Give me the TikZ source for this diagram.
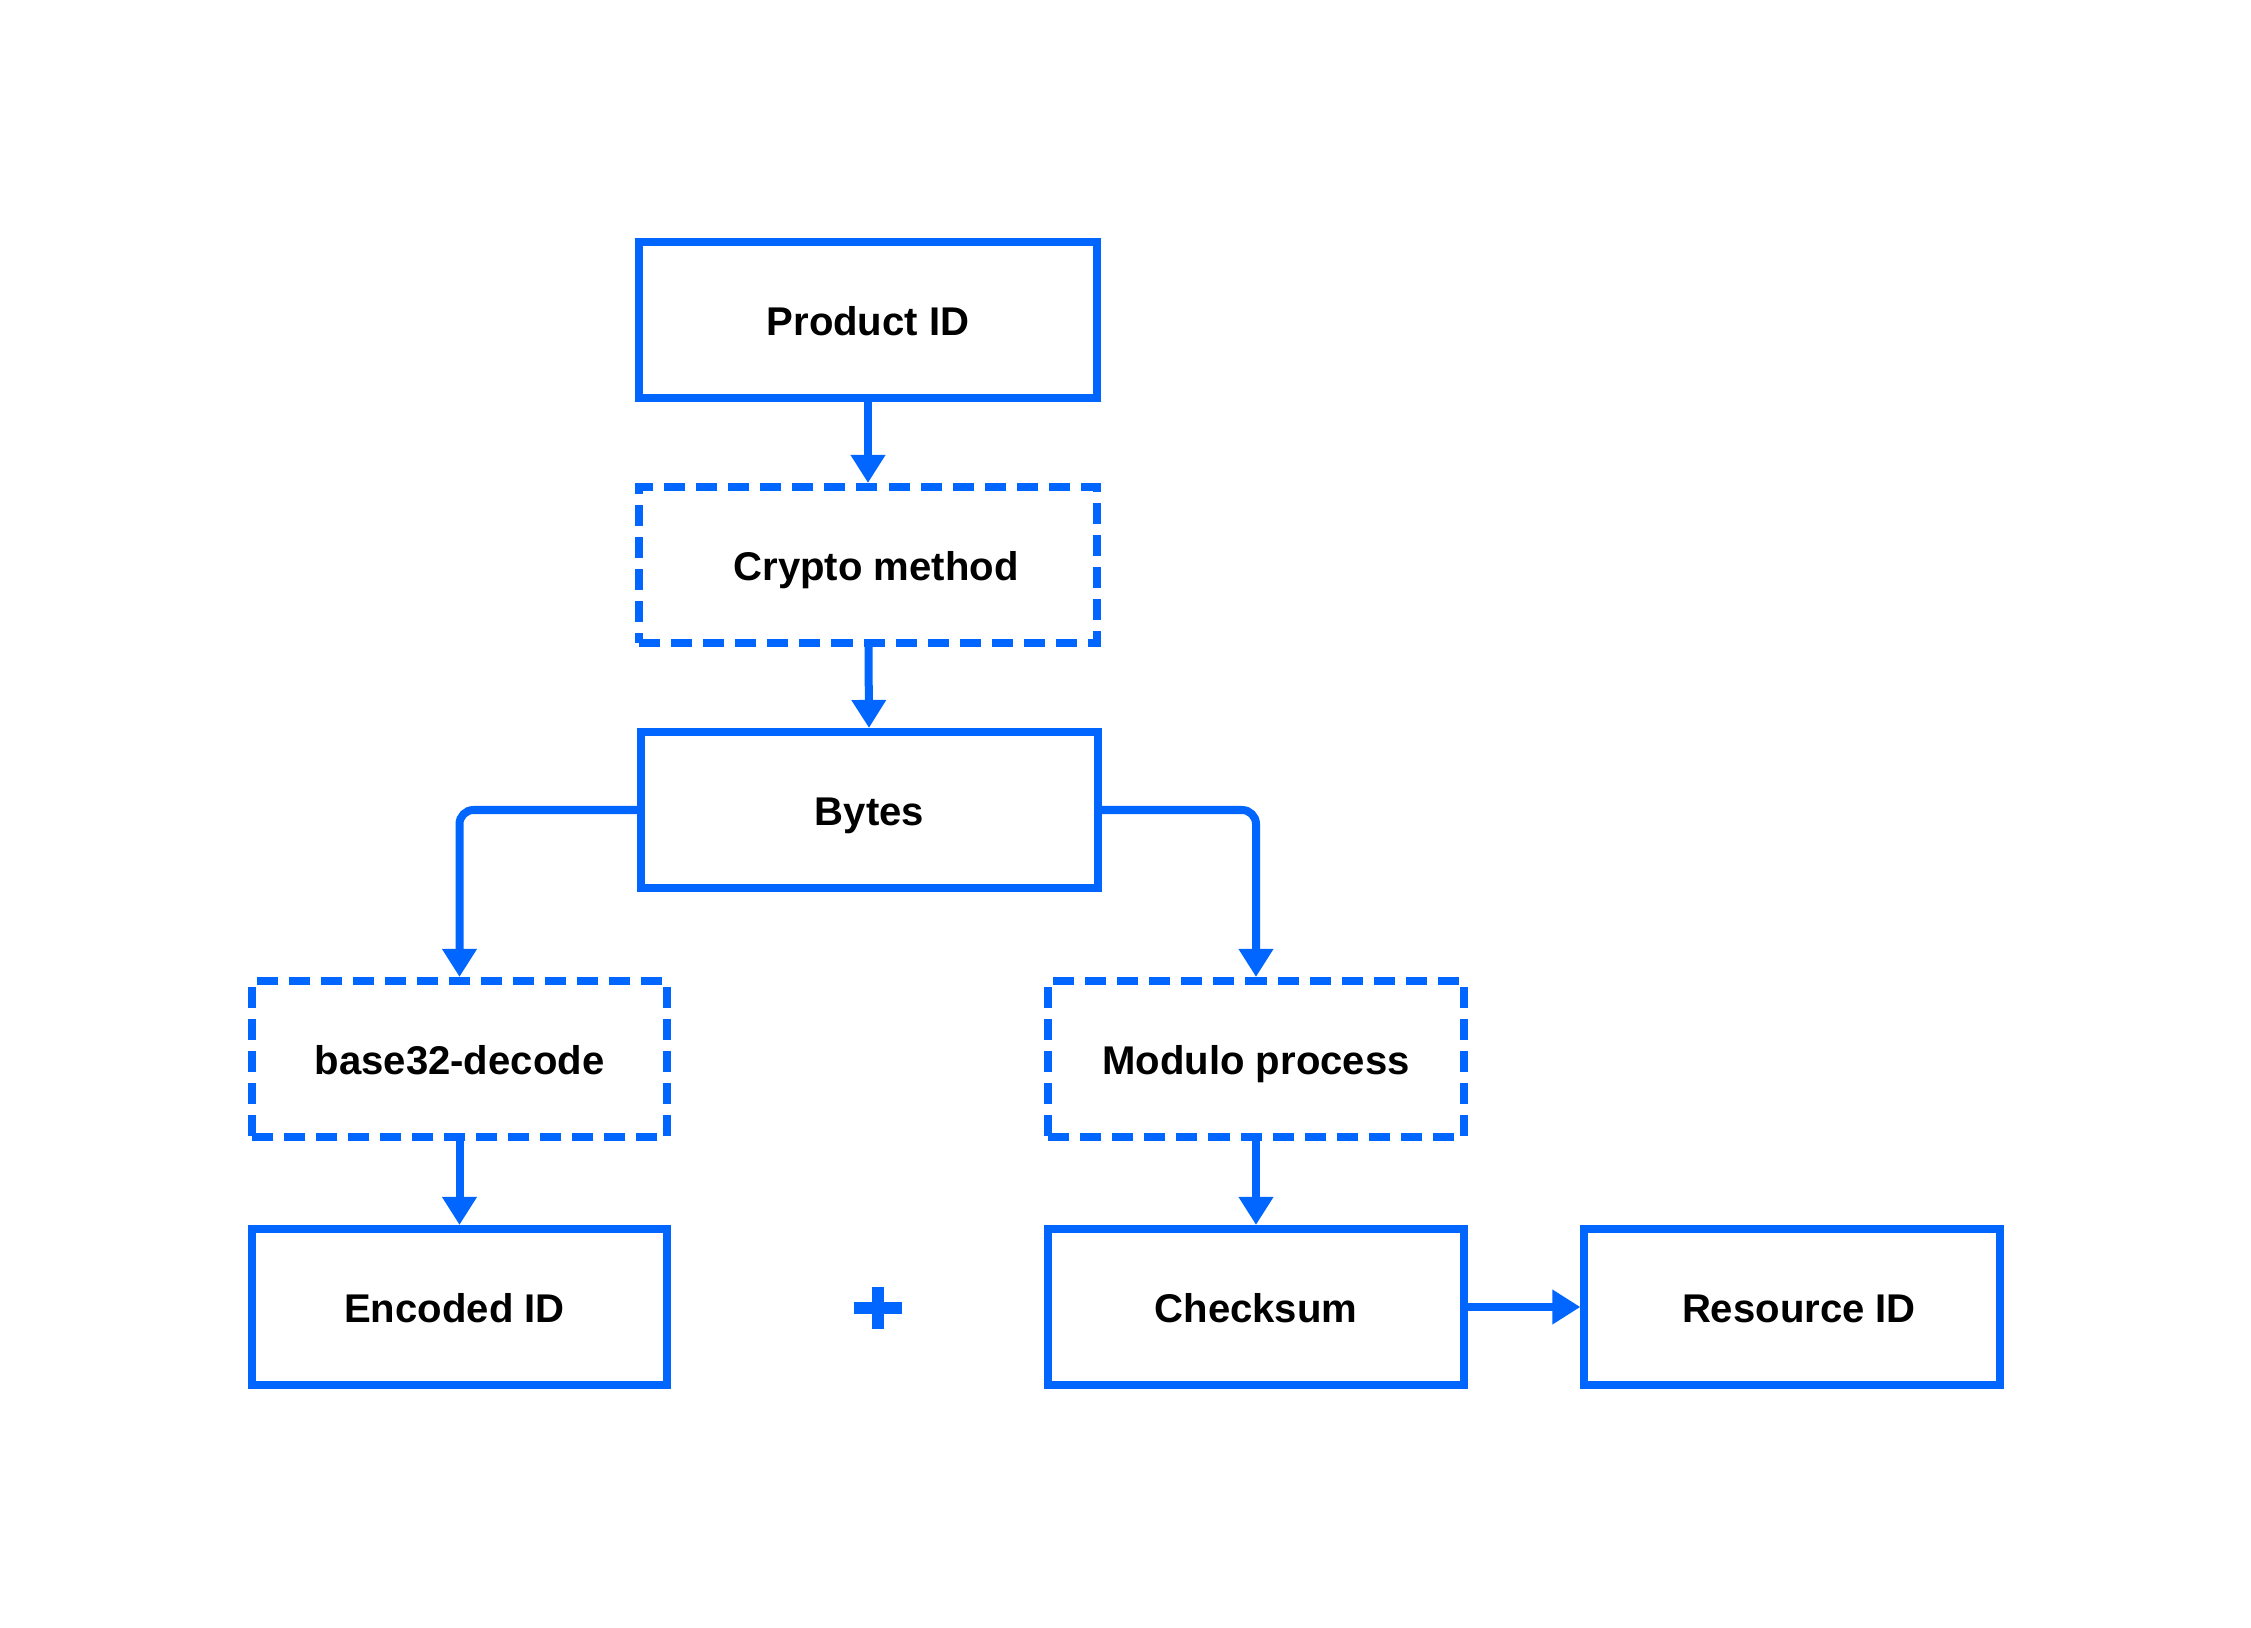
\documentclass[tikz,border=0pt]{standalone}
\usepackage{fontspec}
\setmainfont{Liberation Sans}
\usetikzlibrary{arrows.meta}
\definecolor{flowblue}{RGB}{0,102,255}
\begin{document}
\begin{tikzpicture}[x=0.01cm,y=-0.01cm,
  box/.style={draw=flowblue, line width=0.08cm, rectangle, inner sep=0pt,
    font=\fontsize{11.4}{13}\selectfont\bfseries, text=black,
    text height=0.87em, text depth=0pt},
  wide/.style={box, minimum width=4.57cm, minimum height=1.56cm},
  narrow/.style={box, minimum width=4.15cm, minimum height=1.56cm},
  dashbox/.style={dash pattern=on 0.21cm off 0.11cm},
  conn/.style={draw=flowblue, line width=0.08cm, rounded corners=0.14cm,
    -{Triangle[width=0.33cm,length=0.28cm]}}
]
\useasboundingbox (0,0) rectangle (2251,1628);
\node[wide] (prod) at (868,320) {Product ID};
\node[wide, dashbox] (crypto) at (868,565) {\hspace*{0.16cm}Crypto method};
\node[wide] (bytes) at (869.5,810) {Bytes};
\node[narrow, dashbox] (b32) at (459.5,1059) {base32-decode};
\node[narrow, dashbox] (mod) at (1256,1059) {Modulo process};
\node[narrow] (enc) at (459.5,1307) {Encoded ID\hspace*{0.1cm}};
\node[narrow] (chk) at (1256,1307) {Checksum};
\node[narrow] (res) at (1792,1307) {\hspace*{0.14cm}Resource ID};
\node[fill=flowblue, minimum width=0.48cm, minimum height=0.12cm, inner sep=0pt] (plush) at (878,1308) {};
\node[fill=flowblue, minimum width=0.12cm, minimum height=0.41cm, inner sep=0pt] (plusv) at (878,1308) {};
\draw[conn] (prod) -- (crypto);
\draw[conn] (crypto) -- (bytes);
\draw[conn] (bytes.west) -| (b32.north);
\draw[conn] (bytes.east) -| (mod.north);
\draw[conn] (b32) -- (enc);
\draw[conn] (mod) -- (chk);
\draw[conn] (chk) -- (res);
\end{tikzpicture}
\end{document}
